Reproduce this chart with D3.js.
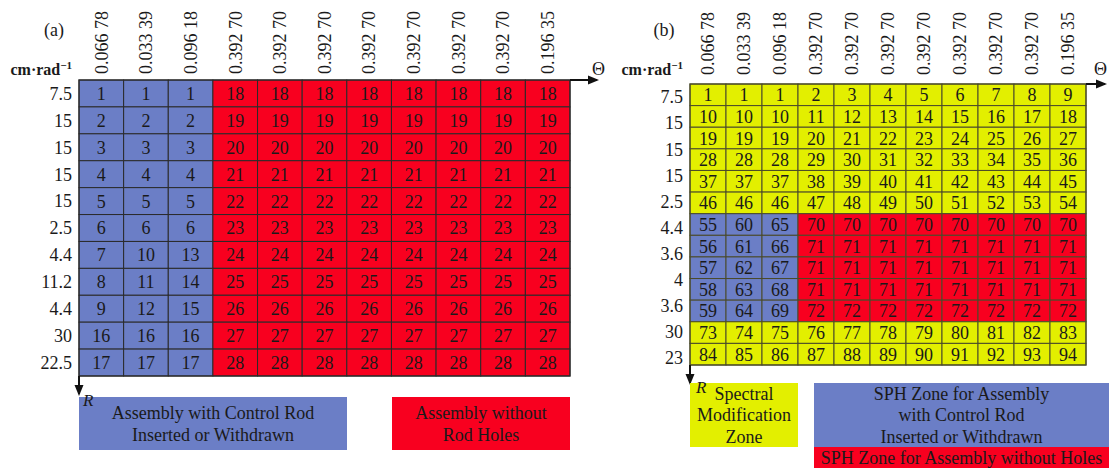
<!DOCTYPE html>
<html><head><meta charset="utf-8">
<script src="https://cdn.jsdelivr.net/npm/d3@7"></script>
<style>
html,body{margin:0;padding:0;background:#fff;}
svg{display:block;font-family:"Liberation Serif","Times New Roman",serif;}
</style></head>
<body><svg id="c" width="1109" height="468"></svg>
<script>
const colHeaders = ["0.066 78","0.033 39","0.096 18","0.392 70","0.392 70","0.392 70","0.392 70","0.392 70","0.392 70","0.392 70","0.196 35"];
const rowLabelsA = ["7.5","15","15","15","15","2.5","4.4","11.2","4.4","30","22.5"];
const rowLabelsB = ["7.5","15","15","15","2.5","4.4","3.6","4","3.6","30","23"];
const cellsA = [
 [1,1,1,18,18,18,18,18,18,18,18],
 [2,2,2,19,19,19,19,19,19,19,19],
 [3,3,3,20,20,20,20,20,20,20,20],
 [4,4,4,21,21,21,21,21,21,21,21],
 [5,5,5,22,22,22,22,22,22,22,22],
 [6,6,6,23,23,23,23,23,23,23,23],
 [7,10,13,24,24,24,24,24,24,24,24],
 [8,11,14,25,25,25,25,25,25,25,25],
 [9,12,15,26,26,26,26,26,26,26,26],
 [16,16,16,27,27,27,27,27,27,27,27],
 [17,17,17,28,28,28,28,28,28,28,28]
];
const zonesA = ["BBBRRRRRRRR","BBBRRRRRRRR","BBBRRRRRRRR","BBBRRRRRRRR","BBBRRRRRRRR","BBBRRRRRRRR","BBBRRRRRRRR","BBBRRRRRRRR","BBBRRRRRRRR","BBBRRRRRRRR","BBBRRRRRRRR"];
const cellsB = [
 [1,1,1,2,3,4,5,6,7,8,9],
 [10,10,10,11,12,13,14,15,16,17,18],
 [19,19,19,20,21,22,23,24,25,26,27],
 [28,28,28,29,30,31,32,33,34,35,36],
 [37,37,37,38,39,40,41,42,43,44,45],
 [46,46,46,47,48,49,50,51,52,53,54],
 [55,60,65,70,70,70,70,70,70,70,70],
 [56,61,66,71,71,71,71,71,71,71,71],
 [57,62,67,71,71,71,71,71,71,71,71],
 [58,63,68,71,71,71,71,71,71,71,71],
 [59,64,69,72,72,72,72,72,72,72,72],
 [73,74,75,76,77,78,79,80,81,82,83],
 [84,85,86,87,88,89,90,91,92,93,94]
];
const zonesB = ["YYYYYYYYYYY","YYYYYYYYYYY","YYYYYYYYYYY","YYYYYYYYYYY","YYYYYYYYYYY","YYYYYYYYYYY",
 "BBBRRRRRRRR","BBBRRRRRRRR","BBBRRRRRRRR","BBBRRRRRRRR","BBBRRRRRRRR","YYYYYYYYYYY","YYYYYYYYYYY"];
const legendA = [
 {zone:"B", lines:["Assembly with Control Rod","Inserted or Withdrawn"]},
 {zone:"R", lines:["Assembly without","Rod Holes"]}
];
const legendB = [
 {zone:"Y", lines:["Spectral","Modification","Zone"]},
 {zone:"B", lines:["SPH Zone for Assembly","with Control Rod","Inserted or Withdrawn"]},
 {zone:"R", lines:["SPH Zone for Assembly without Holes"]}
];

const color = {B:"#6b7ec6", R:"#f8001f", Y:"#e3ef00"};
const ink = "#1a1a1a";
const svg = d3.select("#c");

function arrow(g, x1, y1, x2, y2){
  g.append("line").attr("x1",x1).attr("y1",y1).attr("x2",x2).attr("y2",y2)
    .attr("stroke","#111").attr("stroke-width",2);
  const ang = Math.atan2(y2-y1, x2-x1), L=9, Wd=4.5;
  const p = [[x2+2*Math.cos(ang), y2+2*Math.sin(ang)],
    [x2-L*Math.cos(ang)+Wd*Math.sin(ang), y2-L*Math.sin(ang)-Wd*Math.cos(ang)],
    [x2-L*Math.cos(ang)-Wd*Math.sin(ang), y2-L*Math.sin(ang)+Wd*Math.cos(ang)]];
  g.append("path").attr("d","M"+p.map(d=>d.join(",")).join("L")+"Z").attr("fill","#111");
}

function panel(o){
  const g = svg.append("g");
  const x = d3.scaleBand().domain(d3.range(colHeaders.length)).range([o.x0,o.x1]);
  const y = d3.scaleBand().domain(d3.range(o.cells.length)).range([o.y0,o.y1]);
  const yl = d3.scalePoint().domain(d3.range(o.rowLabels.length)).range(o.labelRange);
  const flat = [];
  o.cells.forEach((row,r)=>row.forEach((v,c)=>flat.push({r,c,v,z:o.zones[r][c]})));
  g.selectAll("rect.cell").data(flat).join("rect").attr("class","cell")
    .attr("x",d=>x(d.c)).attr("y",d=>y(d.r)).attr("width",x.bandwidth()).attr("height",y.bandwidth())
    .attr("fill",d=>color[d.z]).attr("stroke",o.gridStroke).attr("stroke-width",1);
  g.append("rect").attr("x",o.x0).attr("y",o.y0).attr("width",o.x1-o.x0).attr("height",o.y1-o.y0)
    .attr("fill","none").attr("stroke",o.gridStroke).attr("stroke-width",1.2);
  g.selectAll("text.cv").data(flat).join("text").attr("class","cv")
    .attr("x",d=>x(d.c)+x.bandwidth()/2).attr("y",d=>y(d.r)+y.bandwidth()/2)
    .attr("dy","0.36em").attr("text-anchor","middle").attr("font-size",o.cellFont).attr("fill",ink)
    .text(d=>d.v);
  g.selectAll("text.ch").data(colHeaders).join("text").attr("class","ch")
    .attr("transform",(d,i)=>`translate(${x(i)+x.bandwidth()/2},${o.headY}) rotate(-90)`)
    .attr("dy","0.35em").attr("font-size",18).attr("fill",ink).text(d=>d);
  g.selectAll("text.rl").data(o.rowLabels).join("text").attr("class","rl")
    .attr("x",o.labelX).attr("y",(d,i)=>yl(i)).attr("dy","0.35em")
    .attr("text-anchor","end").attr("font-size",18).attr("fill",ink).text(d=>d);
  const u = g.append("text").attr("x",o.labelX).attr("y",o.unitY).attr("text-anchor","end")
    .attr("font-size",16).attr("font-weight","bold").attr("fill",ink);
  u.append("tspan").text("cm·rad");
  u.append("tspan").attr("dy",-6).attr("font-size",11).text("−1");
  g.append("text").attr("x",o.tagX).attr("y",36).attr("text-anchor","middle")
    .attr("font-size",18).attr("fill",ink).text(o.tag);
  arrow(g, o.x1, o.y0, o.x1+o.thetaLen, o.y0);
  g.append("text").attr("x",o.thetaX).attr("y",75).attr("font-size",18).attr("fill",ink).text("Θ");
  arrow(g, o.x0, o.y1, o.x0, o.y1+o.rLen);
  o.legend.forEach((l)=>{
    g.append("rect").attr("x",l.x).attr("y",l.y).attr("width",l.w).attr("height",l.h).attr("fill",color[l.zone]);
  });
  o.legend.forEach((l)=>{
    const lh = 21.5, n=l.lines.length;
    l.lines.forEach((t,i)=>{
      g.append("text").attr("x",l.x+l.w/2).attr("y",l.y+l.h/2+(i-(n-1)/2)*lh).attr("dy","0.35em")
        .attr("text-anchor","middle").attr("font-size",18).attr("fill",ink).text(t);
    });
  });
  g.append("text").attr("x",o.rX).attr("y",o.rY).attr("font-size",17).attr("font-style","italic")
    .attr("fill",ink).text("R");
}

panel({x0:79,x1:570,y0:80,y1:376,cells:cellsA,zones:zonesA,rowLabels:rowLabelsA,
  labelRange:[93.5,362.5],labelX:72,unitY:75,headY:74,tag:"(a)",tagX:54,cellFont:18,
  gridStroke:"#2a2a2a",thetaLen:27,thetaX:592,rLen:18,rX:83,rY:406,
  legend:[Object.assign({x:79,y:397,w:268,h:53},legendA[0]),Object.assign({x:392,y:397,w:178,h:53},legendA[1])]});

panel({x0:690,x1:1086,y0:84,y1:365,cells:cellsB,zones:zonesB,rowLabels:rowLabelsB,
  labelRange:[97,358],labelX:683,unitY:75,headY:75,tag:"(b)",tagX:664,cellFont:18,
  gridStroke:"#4a4a2a",thetaLen:19,thetaX:1094,rLen:18,rX:696,rY:393,
  legend:[Object.assign({x:690,y:383,w:108,h:64},legendB[0]),Object.assign({x:814,y:383,w:295,h:64},legendB[1]),
          Object.assign({x:814,y:447,w:295,h:21},legendB[2])]});
</script></body></html>
